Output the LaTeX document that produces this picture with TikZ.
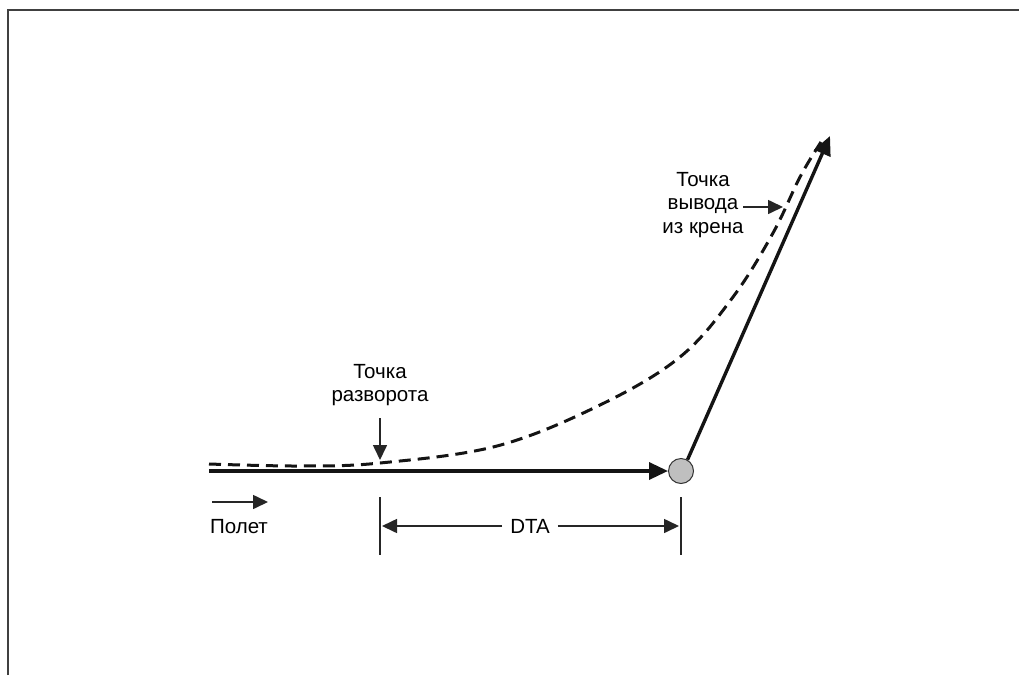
\documentclass[tikz,border=0pt]{standalone}
\usepackage{fontspec}
\setmainfont{Liberation Sans}
\usetikzlibrary{arrows.meta}
\begin{document}
\begin{tikzpicture}[x=1pt,y=-1pt,
  lbl/.style={font=\fontsize{20.5}{23.5}\selectfont,inner sep=0pt,align=center},
  thick path/.style={line width=3.4pt,color=black!92},
  thin path/.style={line width=1.6pt,color=black!85},
  bigtip/.style={-{Triangle[length=19pt,width=17pt]}},
  smalltip/.style={-{Triangle[length=15pt,width=14pt]}},
  dashpath/.style={line width=3pt,color=black!92,dash pattern=on 12pt off 7pt}]
\useasboundingbox (0,0) rectangle (1019,675);
% frame
\draw[line width=2pt,color=black!75] (7.5,675) -- (7.5,9.5) -- (1019,9.5);
% points
\coordinate (start) at (209,471);
\node[circle,draw=black!80,fill=black!25,line width=1pt,minimum size=25pt,inner sep=0pt] (wp) at (681,471) {};
\coordinate (endp) at (830,136);
% dashed path
\draw[dashpath] plot[smooth,tension=0.6] coordinates {(209,464) (300,466) (380,463) (497,446) (600,405) (680,357) (733,297) (773,233) (800,177) (821,142)};
% main track
\draw[thick path,bigtip] (start) -- (wp.west);
\draw[thick path,bigtip] (wp.60) -- (endp);
% flight label
\node[lbl] (flt) at (239,527) {Полет};
\coordinate (fa) at (212,502);
\coordinate (fb) at (268,502);
\draw[thin path,smalltip] (fa) -- (fb);
% turn point label
\node[lbl] (tp) at (380,385) {Точка\\разворота};
\coordinate (tpa) at (380,418);
\coordinate (tpb) at (380,460);
\draw[thin path,smalltip] (tpa) -- (tpb);
% roll-out label
\node[lbl] (ro) at (703,205) {Точка\\вывода\\из крена};
\coordinate (roa) at (743,207);
\coordinate (rob) at (783,207);
\draw[thin path,smalltip] (roa) -- (rob);
% DTA dimension
\coordinate (t1a) at (380,497);
\coordinate (t1b) at (380,555);
\coordinate (t2a) at (681,497);
\coordinate (t2b) at (681,555);
\draw[thin path] (t1a) -- (t1b);
\draw[thin path] (t2a) -- (t2b);
\node[lbl,fill=white,inner xsep=8pt] (dta) at (530,526) {DTA};
\coordinate (da) at (382,526);
\coordinate (db) at (679,526);
\draw[thin path,smalltip] (dta.west) -- (da);
\draw[thin path,smalltip] (dta.east) -- (db);
\end{tikzpicture}
\end{document}
